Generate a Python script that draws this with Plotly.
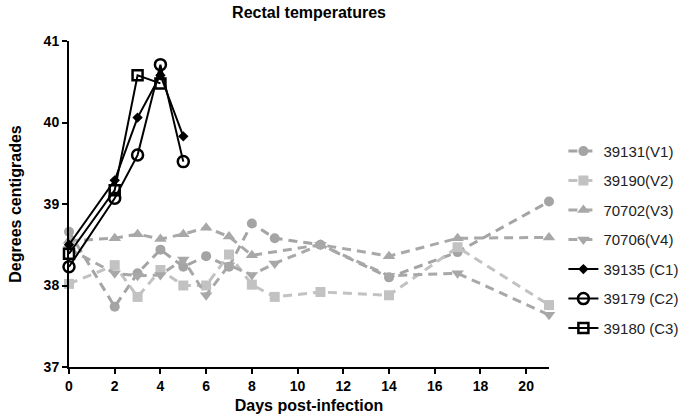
import plotly.graph_objects as go

# ---- data ----
days_v1 = [0, 2, 3, 4, 5, 6, 7, 8, 9, 11, 14, 17, 21]
temp_v1 = [38.66, 37.74, 38.15, 38.44, 38.23, 38.36, 38.23, 38.76, 38.58, 38.5, 38.1, 38.41, 39.03]

days_v2 = [0, 2, 3, 4, 5, 6, 7, 8, 9, 11, 14, 17, 21]
temp_v2 = [38.02, 38.25, 37.86, 38.19, 38.0, 38.0, 38.38, 38.01, 37.86, 37.92, 37.88, 38.47, 37.76]

days_v3 = [0, 2, 3, 4, 5, 6, 7, 8, 11, 14, 17, 21]
temp_v3 = [38.55, 38.58, 38.63, 38.57, 38.63, 38.71, 38.6, 38.37, 38.5, 38.36, 38.58, 38.59]

days_v4 = [0, 2, 3, 4, 5, 6, 7, 8, 9, 11, 14, 17, 21]
temp_v4 = [38.45, 38.15, 38.12, 38.13, 38.32, 37.88, 38.25, 38.13, 38.27, 38.5, 38.12, 38.15, 37.64]

days_c1 = [0, 2, 3, 4, 5]
temp_c1 = [38.5, 39.29, 40.06, 40.58, 39.83]

days_c2 = [0, 2, 3, 4, 5]
temp_c2 = [38.23, 39.07, 39.6, 40.71, 39.52]

days_c3 = [0, 2, 3, 4]
temp_c3 = [38.39, 39.17, 40.58, 40.48]

names = ["39131(V1)", "39190(V2)", "70702(V3)", "70706(V4)",
         "39135 (C1)", "39179 (C2)", "39180 (C3)"]

x_ticks = [0, 2, 4, 6, 8, 10, 12, 14, 16, 18, 20]
y_ticks = [37, 38, 39, 40, 41]

FONT = "Liberation Sans, Arial, sans-serif"

fig = go.Figure()

gray_specs = [
    (days_v1, temp_v1, names[0], "circle", "#a4a4a4", 10),
    (days_v2, temp_v2, names[1], "square", "#c2c2c2", 10),
    (days_v3, temp_v3, names[2], "triangle-up", "#a8a8a8", 11),
    (days_v4, temp_v4, names[3], "triangle-down", "#a8a8a8", 11),
]
for i, (xs, ys, nm, sym, col, sz) in enumerate(gray_specs):
    fig.add_trace(go.Scatter(
        x=xs, y=ys, name=nm, mode="lines+markers", legendgroup=f"g{i}",
        line=dict(color=col, width=3, dash="9px,6px"),
        marker=dict(symbol=sym, size=sz, color=col),
        cliponaxis=False,
    ))

black_specs = [
    (days_c1, temp_c1, names[4], "diamond", 8, 0, "black"),
    (days_c2, temp_c2, names[5], "circle-open", 11, 2.5, "black"),
    (days_c3, temp_c3, names[6], "square-open", 10, 2.5, "black"),
]
for i, (xs, ys, nm, sym, sz, lw, col) in enumerate(black_specs):
    fig.add_trace(go.Scatter(
        x=xs, y=ys, name=nm, mode="lines+markers", legendgroup=f"b{i}",
        line=dict(color=col, width=2),
        marker=dict(symbol=sym, size=sz, color=col,
                    line=dict(color=col, width=lw)),
        cliponaxis=False,
    ))

fig.update_layout(
    width=696, height=418,
    margin=dict(l=69, r=147, t=41, b=51),
    plot_bgcolor="white", paper_bgcolor="white",
    font=dict(family=FONT, color="black", size=14),
    title=dict(text="<b>Rectal temperatures</b>", x=0.5, xref="paper",
               xanchor="center", y=0.97, yref="container", yanchor="middle",
               font=dict(size=16, family=FONT, color="black")),
    showlegend=True,
    legend=dict(x=1.03, xanchor="left", y=0.39, yanchor="middle",
                font=dict(size=15, family=FONT, color="#222222"),
                tracegroupgap=7, itemwidth=30,
                bgcolor="rgba(0,0,0,0)"),
)

fig.update_xaxes(
    range=[0, 21], tickvals=x_ticks, ticktext=[str(t) for t in x_ticks],
    showgrid=False, zeroline=False, showline=True, linecolor="black", linewidth=2,
    ticks="outside", ticklen=5, tickwidth=2, tickcolor="black",
    tickfont=dict(size=14, family=FONT, color="black", weight="bold"),
    automargin=False,
    title=dict(text="<b>Days post-infection</b>", standoff=7,
               font=dict(size=16, family=FONT, color="black")),
)
fig.update_yaxes(
    range=[37, 41], tickvals=y_ticks, ticktext=[str(t) for t in y_ticks],
    showgrid=False, zeroline=False, showline=True, linecolor="black", linewidth=2,
    ticks="outside", ticklen=5, tickwidth=2, tickcolor="black",
    tickfont=dict(size=14, family=FONT, color="black", weight="bold"),
    automargin=False,
    title=dict(text="<b>Degrees centigrades</b>", standoff=18,
               font=dict(size=16, family=FONT, color="black")),
)

fig.write_html("out.html", config={"displayModeBar": False},
               post_script="document.body.style.margin='0';document.body.style.padding='0';")
